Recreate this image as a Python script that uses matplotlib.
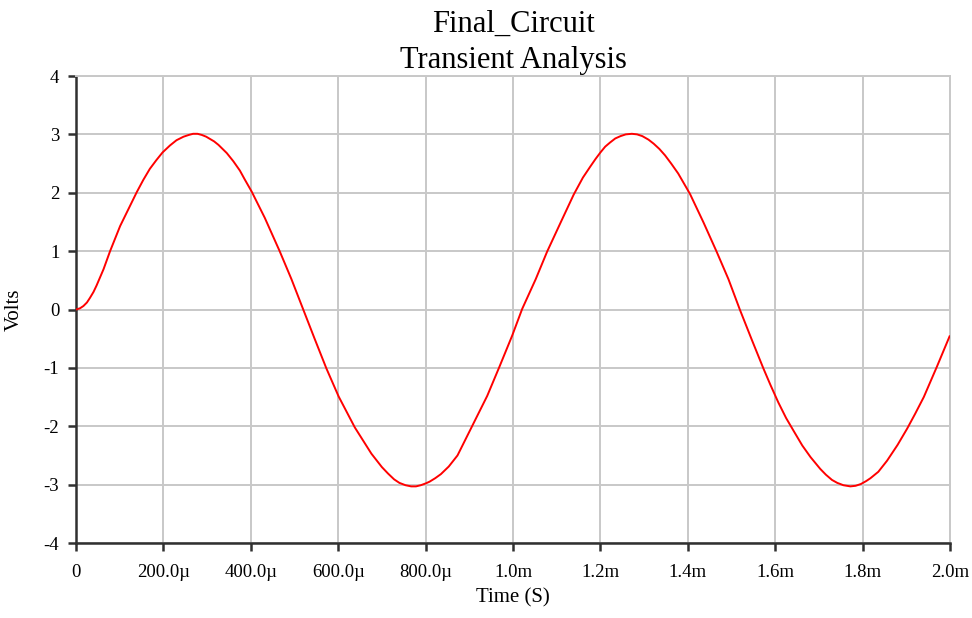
import matplotlib
matplotlib.use("Agg")
import matplotlib.pyplot as plt

# Time (microseconds) and voltage
time_us = [0, 9, 17, 25, 32, 40, 47, 55, 63, 78, 101, 120, 139, 154, 169, 184, 198,
           215, 230, 246, 258, 268, 278, 288, 298, 307, 316, 326, 345, 360, 375,
           386, 402, 432, 466, 493, 520, 546, 573, 601, 638, 676, 700, 714, 728,
           740, 754, 767, 778, 789, 800, 809, 822, 835, 853, 873, 907, 941, 969,
           998, 1021, 1052, 1078, 1109, 1139, 1160, 1177, 1189, 1200, 1211, 1222,
           1234, 1246, 1258, 1272, 1284, 1296, 1310, 1322, 1335, 1348, 1362, 1378,
           1405, 1436, 1466, 1493, 1519, 1546, 1573, 1589, 1607, 1625, 1643, 1662,
           1681, 1703, 1716, 1730, 1742, 1756, 1772, 1784, 1796, 1808, 1818, 1836,
           1856, 1880, 1902, 1920, 1940, 1970, 1999]
volts = [0.00, 0.02, 0.06, 0.12, 0.20, 0.30, 0.41, 0.55, 0.69, 1.00, 1.43, 1.72,
         2.01, 2.22, 2.41, 2.56, 2.69, 2.81, 2.90, 2.96, 2.99, 3.01, 3.01, 2.99,
         2.96, 2.92, 2.88, 2.82, 2.68, 2.54, 2.38, 2.23, 2.02, 1.57, 1.00, 0.52,
         0.00, -0.50, -1.01, -1.49, -2.02, -2.47, -2.70, -2.81, -2.91, -2.97,
         -3.01, -3.03, -3.03, -3.01, -2.98, -2.95, -2.89, -2.82, -2.69, -2.50,
         -1.99, -1.48, -0.98, -0.45, 0.01, 0.52, 0.99, 1.49, 1.97, 2.26, 2.45,
         2.58, 2.69, 2.79, 2.86, 2.93, 2.97, 3.00, 3.01, 3.00, 2.97, 2.91, 2.84,
         2.75, 2.64, 2.50, 2.33, 1.98, 1.49, 0.99, 0.52, 0.00, -0.51, -1.01, -1.29,
         -1.59, -1.86, -2.09, -2.33, -2.53, -2.73, -2.83, -2.92, -2.97, -3.01,
         -3.03, -3.02, -2.99, -2.94, -2.89, -2.78, -2.59, -2.32, -2.04, -1.79,
         -1.50, -0.98, -0.46]

x_ticks_us = [0, 200, 400, 600, 800, 1000, 1200, 1400, 1600, 1800, 2000]
x_tick_labels = ["0", "200.0\u00b5", "400.0\u00b5", "600.0\u00b5", "800.0\u00b5",
                 "1.0m", "1.2m", "1.4m", "1.6m", "1.8m", "2.0m"]
y_ticks = [-4, -3, -2, -1, 0, 1, 2, 3, 4]
y_tick_labels = ["-4", "-3", "-2", "-1", "0", "1", "2", "3", "4"]

title_text = "Final_Circuit\nTransient Analysis"
x_label = "Time (S)"
y_label = "Volts"

plt.rcParams["font.family"] = ["Liberation Serif", "DejaVu Serif"]

fig = plt.figure(figsize=(9.72, 6.18), dpi=100)
fig.patch.set_facecolor("white")
ax = fig.add_axes([76 / 972, 1 - 543 / 618, (950 - 76) / 972, (543 - 76) / 618])

ax.plot(time_us, volts, color="#ff0000", linewidth=1.4, zorder=3,
        solid_joinstyle="round")

ax.set_xlim(0, 2000)
ax.set_ylim(-4, 4)
ax.set_xticks(x_ticks_us)
ax.set_xticklabels(x_tick_labels)
ax.set_yticks(y_ticks)
ax.set_yticklabels(y_tick_labels)

ax.grid(True, color="#c8c8c8", linewidth=1.4)
ax.set_axisbelow(True)

for side in ("top", "right"):
    ax.spines[side].set_color("#c8c8c8")
    ax.spines[side].set_linewidth(1.4)
for side in ("left", "bottom"):
    ax.spines[side].set_color("#303030")
    ax.spines[side].set_linewidth(1.8)

ax.tick_params(axis="both", direction="out", length=6, width=1.8, color="#303030",
               labelsize=13.5, labelcolor="black")
ax.tick_params(axis="x", pad=9)
ax.tick_params(axis="y", pad=6)

ax.set_title(title_text, fontsize=22, linespacing=1.3, pad=6)
ax.set_xlabel(x_label, fontsize=15, labelpad=5)
ax.set_ylabel(y_label, fontsize=15, labelpad=14)

fig.savefig("out.png", dpi=100, facecolor="white")
